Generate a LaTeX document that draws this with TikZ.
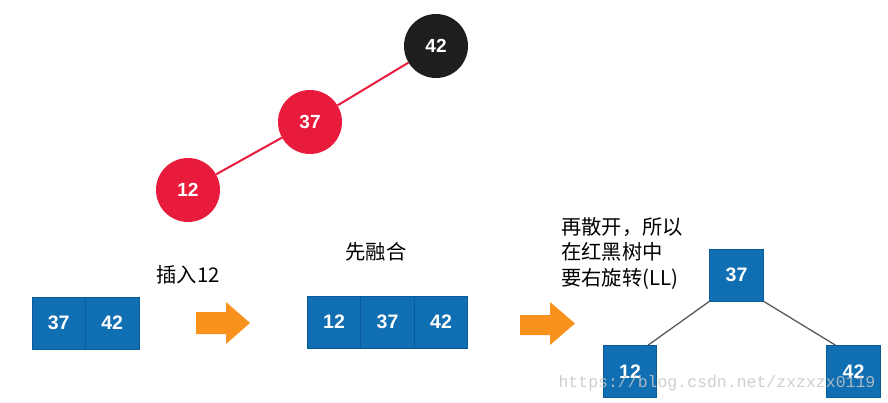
\documentclass[tikz,border=0pt]{standalone}
\usepackage{fontspec}
\setmainfont{Liberation Sans}
\newfontfamily\cjk{Noto Sans CJK SC}
\newfontfamily\wmfont{Liberation Mono}
\definecolor{rbred}{RGB}{232,27,60}
\definecolor{rbblack}{RGB}{30,30,30}
\definecolor{bblue}{RGB}{16,110,178}
\definecolor{bblueline}{RGB}{10,92,152}
\definecolor{arrorange}{RGB}{248,146,28}
\definecolor{edgegray}{RGB}{90,90,90}
\begin{document}
\begin{tikzpicture}[x=1pt,y=-1pt,
  rbnode/.style={circle,minimum size=64pt,inner sep=0pt,text=white,font=\fontsize{19}{22}\selectfont\bfseries},
  cell/.style={rectangle,minimum width=53.5pt,minimum height=52pt,inner sep=0pt,fill=bblue,draw=bblueline,line width=0.6pt,text=white,font=\fontsize{19.5}{22}\selectfont\bfseries},
  rbedge/.style={draw=rbred,line width=2pt},
  treeedge/.style={draw=edgegray,line width=1.3pt},
  label/.style={font=\cjk\fontsize{20.3}{25.5}\selectfont,inner sep=0pt},
  bigarrow/.style={fill=arrorange,draw=none}]
\useasboundingbox (0,0) rectangle (888,403);
% red-black tree
\node[rbnode,fill=rbblack] (c42) at (436,46) {42};
\node[rbnode,fill=rbred] (c37) at (310,122) {37};
\node[rbnode,fill=rbred] (c12) at (188,190) {12};
\draw[rbedge] (c42) -- (c37);
\draw[rbedge] (c37) -- (c12);
% first 2-node
\node[cell] (a37) at (58.75,323) {37};
\node[cell] (a42) at (112.25,323) {42};
\node[label] (t1) at (188,275) {插入12};
% arrow 1
\fill[bigarrow] (196,312) -- (226,312) -- (226,302) -- (250,323) -- (226,344) -- (226,334) -- (196,334) -- cycle;
% merged 4-node
\node[cell] (b12) at (334,322) {12};
\node[cell] (b37) at (387.5,322) {37};
\node[cell] (b42) at (441,322) {42};
\node[label] (t2) at (376,252) {先融合};
% arrow 2
\fill[bigarrow] (520,315) -- (550,315) -- (550,302) -- (575,323.5) -- (550,345) -- (550,335) -- (520,335) -- cycle;
% split tree
\node[label,anchor=west,align=left] (t3) at (561,253) {再散开，所以\\在红黑树中\\要右旋转(LL)};
\node[cell] (d37) at (736.5,275) {37};
\node[cell] (d12) at (630,371.5) {12};
\node[cell] (d42) at (853.5,371.5) {42};
\draw[treeedge] (d37.south west) -- ([xshift=18pt]d12.north);
\draw[treeedge] (d37.south east) -- ([xshift=-18pt]d42.north);
% watermark
\node[font=\wmfont\fontsize{16.5}{18}\selectfont,text=gray!45,opacity=0.85,inner sep=0pt] (wm) at (717,383) {https://blog.csdn.net/zxzxzx0119};
\end{tikzpicture}
\end{document}
